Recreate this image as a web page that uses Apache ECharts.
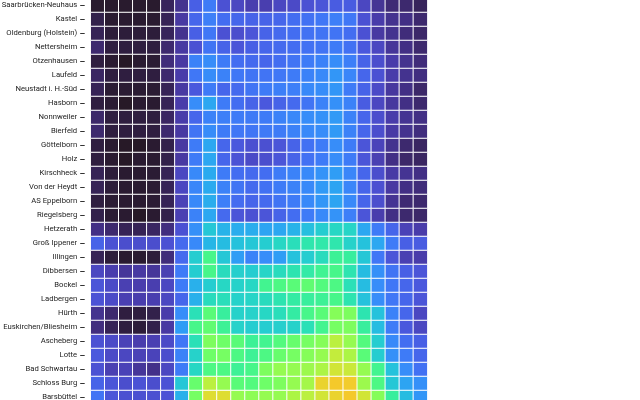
<!DOCTYPE html>
<html>
<head>
<meta charset="utf-8">
<script src="https://cdn.jsdelivr.net/npm/echarts@6/dist/echarts.min.js"></script>
<style>
  html, body { margin: 0; padding: 0; background: #fff; }
  #chart { width: 640px; height: 400px; }
</style>
</head>
<body>
<div id="chart"></div>
<script>
// Hours of the day (x categories)
const hours = [0, 1, 2, 3, 4, 5, 6, 7, 8, 9, 10, 11, 12, 13, 14, 15, 16, 17, 18, 19, 20, 21, 22, 23];

// Counting stations (y categories, top to bottom)
const locations = [
  "Saarbrücken-Neuhaus", "Kastel", "Oldenburg (Holstein)", "Nettersheim", "Otzenhausen",
  "Laufeld", "Neustadt i. H.-Süd", "Hasborn", "Nonnweiler", "Bierfeld", "Göttelborn",
  "Holz", "Kirschheck", "Von der Heydt", "AS Eppelborn", "Riegelsberg", "Hetzerath",
  "Groß Ippener", "Illingen", "Dibbersen", "Bockel", "Ladbergen", "Hürth",
  "Euskirchen/Bliesheim", "Ascheberg", "Lotte", "Bad Schwartau", "Schloss Burg", "Barsbüttel"
];

// Median traffic per hour, relative scale (0–100 of the colour domain), one row per station
const medianTraffic = [
  [0.6,0.6,0.6,0.6,0.6,2.2,4.5,11,15,9,7.5,6.3,6.3,7.5,8,9,9.5,10.5,10.5,7.5,4.8,3.3,3,2.2],
  [1.6,0.7,0.7,0.7,0.7,2,5.5,12,15.5,13,12,11.5,11.5,12,13,13.5,14.5,15.5,14.5,9,6,4.5,4,3],
  [2,1,1,1,1,2.2,4.5,11,14.5,9,8.5,9.5,11.5,12.5,13,13.5,14,14,13,9,5.5,4.5,3.5,2.8],
  [3,1.2,1.2,1.2,1.2,3,5.5,9,14,11.5,9.5,11,12,12.5,13,13.5,14,15,13.5,10,7.5,5,4,3],
  [1.2,0.7,0.4,0.7,0.8,3.5,5.5,16,17.5,15,13,12.5,12,13,14,15,16,17.5,15.5,11.5,8.5,6,4.5,3.5],
  [2.5,1.2,1.2,1.2,1.2,3,6,14.5,17.5,16,14.5,14,14,14.5,15,16,17,19,16.5,12,9,6,4.5,3.8],
  [2,0.8,0.8,0.8,0.8,2,5.5,10,15,12,12.5,14,15,15.5,15.5,17,17.5,19,15,11.5,8,5.3,4,2.8],
  [1.2,0.8,0.4,0.7,0.7,2,6,17.5,21.5,15,13,11.5,10,11.5,12.5,14,16,18,16,10.5,7.5,5.3,4,3],
  [2.8,1.2,1.2,1.2,1.2,2.5,6,12,16,15.5,15,14.8,15,16,16.8,17.5,18.2,19.5,16,12,8.5,6,4.7,4],
  [3,1.2,1.2,1.2,1.2,3,5.5,14,17.5,15,14.5,14.3,14.8,15,16,17,17.5,19.5,16,12,8.5,5.7,4.5,3.7],
  [1.2,0.7,0.4,0.4,0.7,1.6,5.5,15,21.5,12,10,8.8,8.8,9.5,11.5,13.5,15,17.5,15,9.5,7,4.5,3,2.5],
  [1.2,0.7,0.4,0.7,0.7,1.6,5.5,15,21.5,12,9.2,8,8.5,9.5,11.5,13.5,15,17.5,15,9.5,6.5,4,2.8,2.5],
  [2,1,0.7,0.7,0.8,2,7.5,17,22,15,13,12.5,13,15,16,17,18.5,20,16.5,12,8.5,5.7,4.7,4],
  [2,1,0.7,0.7,0.8,2,7.5,16.5,22,16,14,12.5,13.5,15,16,17,19.5,21,16.5,11.8,8.8,5.5,4,3.5],
  [1.2,0.8,0.7,0.7,0.8,2,6.8,17,22.5,15.5,12.8,11.8,12.5,14,15,17,19,21,17,11.8,8.5,4.7,3.2,3],
  [1.6,0.8,0.7,0.4,0.7,1.6,6.5,16,21.5,12.5,9.5,9,9.5,11.5,13,15,17,18.5,15.5,9.5,6.2,4,3,2.8],
  [4,3,2,2,2.5,3.7,9,18,27,23.5,22.5,22.5,21,21.5,23.5,25.5,28,30,29.5,21.5,15,11.8,6.8,6],
  [11.5,9,8.5,8.5,8.5,9,12.5,17,24,25,26,27,28,30,31.5,33.5,34,33.5,29,26,21.5,15,11,10.5],
  [2,1,0.7,0.7,1,3.5,12.5,28,39,27,20,16,17.5,20,26,28,31,37,36,27,14.5,9.5,6.5,6],
  [7.5,6.2,5,5.5,5,6.5,15,28,39,31,28.5,28,29.5,31,33,34.5,37.5,39,33,25,18,14,11,9.5],
  [9.5,8,6.5,6.2,6.3,7.5,15,23,28,30,29,30,38,40,42,43,41,40,32,25,17.5,14.5,12,10],
  [9.2,8,6.5,6.2,6.3,7.5,12,23,31,31.5,29,29.5,31,33,35,36,37,39,33,26,17.5,14.5,12,9.5],
  [4.5,3,1.2,1.2,1.6,6,17.5,32,42,36,29,29,30,31.5,35,39,42,48,47,33,26,16,12,7.5],
  [3.7,2,1.2,1,1.6,5.5,20,39,43,37,29,28,28,28.5,29,32,38,46,47,36,25,15,10,7.5],
  [9,8,6.8,6.2,6.5,8,14.5,32,47,45,42,37,38,41,44,46,48,55,50,41,28,17,13,11],
  [10,8,7.5,6.8,7,8.5,16,29,45,46,40,37,40,44,46,48,50,56,53,42,28,18,15,12],
  [9,6.5,6.8,5,4.2,7.5,15,30,40,40,37,39,47,50,50,51,53,58,57,50,38,26,17.5,13.5],
  [11.5,9.5,8.5,9.2,8.5,9.2,27,44,55,50,42,41,45,47,50,52,62,64,63.5,51,40,27,21,18],
  [14,9.5,8.8,8.8,8.8,9.2,23,46,60,60,50,49,50,50,53,55,58,62,64,58,48,36,25,19]
];

// Turbo colour ramp (polynomial approximation)
function turbo(t) {
  t = Math.max(0, Math.min(1, t));
  const c = v => Math.max(0, Math.min(255, Math.round(v)));
  const r = c(34.61 + t * (1172.33 - t * (10793.56 - t * (33300.12 - t * (38394.49 - t * 14825.05)))));
  const g = c(23.31 + t * (557.33 + t * (1225.33 - t * (3574.96 - t * (1073.77 + t * 707.56)))));
  const b = c(27.2 + t * (3211.1 - t * (15327.97 - t * (27814 - t * (22569.18 - t * 6838.66)))));
  return 'rgb(' + r + ',' + g + ',' + b + ')';
}
const turboStops = [];
for (let i = 0; i <= 100; i++) turboStops.push(turbo(i / 100));

const cells = [];
locations.forEach((loc, yi) => {
  hours.forEach((h, xi) => {
    cells.push([xi, yi, medianTraffic[yi][xi]]);
  });
});

const chart = echarts.init(document.getElementById('chart'), null, { renderer: 'canvas' });
chart.setOption({
  animation: false,
  backgroundColor: '#ffffff',
  grid: {
    left: 90.7, top: -1.5, width: 336.7, height: 406,
    containLabel: false, outerBoundsMode: 'none'
  },
  xAxis: { type: 'category', data: hours, show: false },
  yAxis: {
    type: 'category',
    data: locations,
    inverse: true,
    offset: 6,
    axisLine: { show: false },
    axisTick: { show: true, alignWithLabel: true, length: 4.5, lineStyle: { color: '#333', width: 1 } },
    axisLabel: {
      interval: 0, margin: 7.5, fontSize: 7.7, color: '#222',
      fontFamily: 'Roboto, sans-serif'
    },
    splitLine: { show: false }
  },
  visualMap: {
    show: false,
    type: 'continuous',
    min: 0,
    max: 100,
    dimension: 2,
    inRange: { color: turboStops }
  },
  series: [{
    type: 'heatmap',
    data: cells,
    itemStyle: { borderColor: '#ffffff', borderWidth: 1 },
    emphasis: { disabled: true }
  }]
});
</script>
</body>
</html>
